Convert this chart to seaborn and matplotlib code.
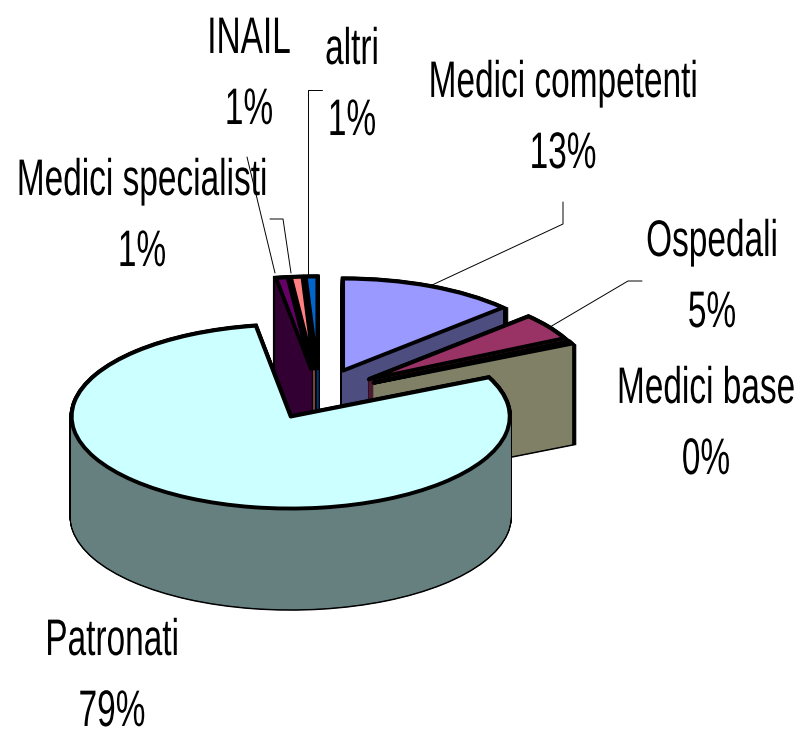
import numpy as np
import seaborn as sns
import matplotlib
matplotlib.use("Agg")
import matplotlib.pyplot as plt
from matplotlib.lines import Line2D
from matplotlib.patches import PathPatch
from matplotlib.patheffects import AbstractPathEffect
from matplotlib.path import Path
from matplotlib.transforms import Affine2D

##### data, clockwise from twelve o'clock #####
categories = ["Medici competenti", "Ospedali", "Medici base", "Patronati",
              "Medici specialisti", "INAIL", "altri"]
shares = [13, 4.6, 0.4, 79.45, 0.85, 0.85, 0.85]
labels_pct = ["13%", "5%", "0%", "79%", "1%", "1%", "1%"]
top_colors = ["#9999FF", "#993366", "#FFFFCC", "#CCFFFF", "#660066", "#FF8080", "#0066CC"]

##### layout, all in reference pixels #####
W, H = 800, 733
CX, CY = 319, 394
RX, RY = 219, 92
DEPTH = 100
EXPLODE = 0.277
draw_order = [0, 1, 2, 6, 5, 4, 3]
label_pos = [(563, 119), (712, 278), (706, 425), (112, 677), (142, 217), (249, 75), (352, 86)]
leaders = [
    [(430, 286), (563, 224), (563, 202)],
    [(550, 327), (628, 281), (642, 281)],
    [(275, 273), (247, 157)],
    [(291, 273), (283, 219), (270, 219)],
    [(308, 275), (308, 90), (322, 90)],
]


# the reference type is a squeezed Arial, no condensed family is installed
class Squeeze(AbstractPathEffect):
    def __init__(self, x0, factor):
        super().__init__()
        self.x0 = x0
        self.factor = factor

    def draw_path(self, renderer, gc, tpath, affine, rgbFace=None):
        squeeze = Affine2D().translate(-self.x0, 0).scale(self.factor, 1).translate(self.x0, 0)
        renderer.draw_path(gc, tpath, affine + squeeze, rgbFace)


sns.set_theme(style="white")
plt.rcParams["font.family"] = ["Liberation Sans", "DejaVu Sans"]
palette = sns.color_palette(top_colors)
side_colors = [tuple(np.array(c) * 0.5) for c in palette]

fig = plt.figure(figsize=(W / 100, H / 100), dpi=100)
ax = fig.add_axes([0, 0, 1, 1])
wedges, _ = ax.pie(shares, colors=palette, explode=[EXPLODE] * len(shares),
                   startangle=90, counterclock=False, radius=1)

# squash the round pie into the tilted ellipse
ax.set_aspect("auto")
ax.set_xlim(-CX / RX, (W - CX) / RX)
ax.set_ylim(-(H - CY) / RY, CY / RY)

depth = DEPTH / RY
for z, i in enumerate(draw_order):
    w = wedges[i]
    base = 10 + z * 10
    w.set_visible(False)
    verts, codes = w.get_path().vertices, w.get_path().codes
    offsets = np.linspace(depth, 0, 201)
    # black pass gives the outline of the extruded slice, colour pass fills it
    for d in offsets:
        ax.add_patch(PathPatch(Path(verts - [0, d], codes), fc="black", ec="black",
                               lw=3.2, zorder=base))
    for d in offsets:
        ax.add_patch(PathPatch(Path(verts - [0, d], codes), fc=side_colors[i],
                               ec=side_colors[i], lw=1.0, zorder=base + 1))
    ax.add_patch(PathPatch(w.get_path(), fc=palette[i], ec="black", lw=2.8,
                           joinstyle="round", zorder=base + 3))

##### labels and leader lines #####
for name, pct, (x, y) in zip(categories, labels_pct, label_pos):
    t = fig.text(x / W, 1 - y / H, f"{name}\n{pct}", ha="center", va="center",
                 fontsize=37, linespacing=1.58, color="black")
    t.set_path_effects([Squeeze(x, 0.65)])

for pts in leaders:
    xs = [p[0] / W for p in pts]
    ys = [1 - p[1] / H for p in pts]
    fig.add_artist(Line2D(xs, ys, color="black", lw=0.7))

plt.savefig("out.png", dpi=100)
